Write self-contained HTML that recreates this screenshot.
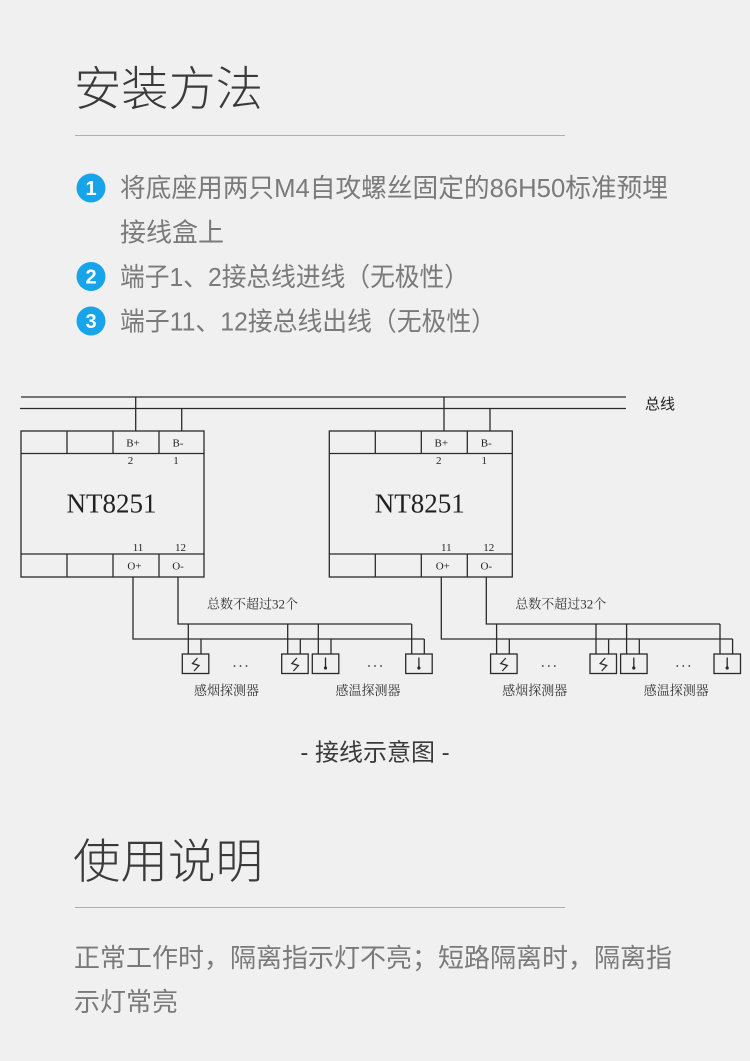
<!DOCTYPE html>
<html>
<head>
<meta charset="utf-8">
<style>
html,body{margin:0;padding:0;background:#f0f0f0;}
body{width:750px;height:1061px;overflow:hidden;}
svg{display:block;}
.ttl{font-family:"Liberation Sans","Noto Sans CJK SC",sans-serif;font-size:47px;fill:#3a3a3a;font-weight:300;}
.li{font-family:"Liberation Sans","Noto Sans CJK SC",sans-serif;font-size:26px;fill:#7a7a7a;}
.num{font-family:"Liberation Sans Narrow","Liberation Sans",sans-serif;font-size:20px;font-weight:bold;fill:#fff;}
.sr{font-family:"Liberation Serif","Noto Serif CJK SC",serif;fill:#222;}
.cj{font-family:"Liberation Serif","Noto Serif CJK SC",serif;font-size:13px;fill:#333;}
.w{stroke:#2a2a2a;stroke-width:1.3;fill:none;}
</style>
</head>
<body>
<svg width="750" height="1061" viewBox="0 0 750 1061" xmlns="http://www.w3.org/2000/svg">
  <rect x="0" y="0" width="750" height="1061" fill="#f0f0f0"/>

  <!-- Title 1 -->
  <text class="ttl" x="74" y="105.5" textLength="189" lengthAdjust="spacingAndGlyphs">安装方法</text>
  <line x1="75" y1="135.5" x2="565" y2="135.5" stroke="#b0b0b0" stroke-width="1"/>

  <!-- List -->
  <circle cx="91" cy="188" r="14.5" fill="#18a4ea"/>
  <text class="num" x="91" y="195" text-anchor="middle">1</text>
  <text class="li" x="120" y="197" textLength="548" lengthAdjust="spacingAndGlyphs">将底座用两只M4自攻螺丝固定的86H50标准预埋</text>
  <text class="li" x="120" y="241.5">接线盒上</text>
  <circle cx="91" cy="276.5" r="14.5" fill="#18a4ea"/>
  <text class="num" x="91" y="283.5" text-anchor="middle">2</text>
  <text class="li" x="120" y="286" textLength="349" lengthAdjust="spacingAndGlyphs">端子1、2接总线进线（无极性）</text>
  <circle cx="91" cy="321" r="14.5" fill="#18a4ea"/>
  <text class="num" x="91" y="328" text-anchor="middle">3</text>
  <text class="li" x="120" y="330.5" textLength="376" lengthAdjust="spacingAndGlyphs">端子11、12接总线出线（无极性）</text>

  <!-- Bus -->
  <line class="w" x1="21" y1="397" x2="626" y2="397"/>
  <line class="w" x1="20" y1="408.5" x2="626" y2="408.5"/>
  <text x="645" y="409" style="font-family:'Liberation Sans','Noto Sans CJK SC',sans-serif;font-size:15px;fill:#222;">总线</text>

  <!-- Module 1 -->
  <g id="m1">
    <line class="w" x1="135.7" y1="397" x2="135.7" y2="431"/>
    <line class="w" x1="181.7" y1="408.5" x2="181.7" y2="431"/>
    <rect class="w" x="21" y="431" width="183" height="146"/>
    <line class="w" x1="21" y1="453.5" x2="204" y2="453.5"/>
    <line class="w" x1="21" y1="554" x2="204" y2="554"/>
    <line class="w" x1="67" y1="431" x2="67" y2="453.5"/>
    <line class="w" x1="113" y1="431" x2="113" y2="453.5"/>
    <line class="w" x1="159" y1="431" x2="159" y2="453.5"/>
    <line class="w" x1="67" y1="554" x2="67" y2="577"/>
    <line class="w" x1="113" y1="554" x2="113" y2="577"/>
    <line class="w" x1="159" y1="554" x2="159" y2="577"/>
    <text class="sr" x="133" y="446.5" font-size="11" text-anchor="middle">B+</text>
    <text class="sr" x="178" y="446.5" font-size="11" text-anchor="middle">B-</text>
    <text class="sr" x="130.5" y="464" font-size="11" text-anchor="middle">2</text>
    <text class="sr" x="176" y="464" font-size="11" text-anchor="middle">1</text>
    <text class="sr" x="111.5" y="512.5" font-size="27" text-anchor="middle">NT8251</text>
    <text class="sr" x="138" y="551" font-size="11" text-anchor="middle">11</text>
    <text class="sr" x="180.5" y="551" font-size="11" text-anchor="middle">12</text>
    <text class="sr" x="134.5" y="569.5" font-size="11" text-anchor="middle">O+</text>
    <text class="sr" x="178" y="569.5" font-size="11" text-anchor="middle">O-</text>

    <!-- output wiring -->
    <polyline class="w" points="133,577 133,639 424.3,639"/>
    <polyline class="w" points="178,577 178,624 411.7,624"/>
    <line class="w" x1="188.3" y1="624" x2="188.3" y2="654"/>
    <line class="w" x1="201" y1="639" x2="201" y2="654"/>
    <line class="w" x1="287.7" y1="624" x2="287.7" y2="654"/>
    <line class="w" x1="300.3" y1="639" x2="300.3" y2="654"/>
    <line class="w" x1="318.3" y1="624" x2="318.3" y2="654"/>
    <line class="w" x1="331" y1="639" x2="331" y2="654"/>
    <line class="w" x1="411.7" y1="624" x2="411.7" y2="654"/>
    <line class="w" x1="424.3" y1="639" x2="424.3" y2="654"/>

    <text class="cj" x="207" y="608.5">总数不超过32个</text>

    <!-- detectors -->
    <rect class="w" x="182.3" y="654" width="26.5" height="19.5"/>
    <path class="w" d="M197.5 658 L192.5 663.5 L199 665.5 L194 671"/>
    <rect class="w" x="281.7" y="654" width="26.5" height="19.5"/>
    <path class="w" d="M296.9 658 L291.9 663.5 L298.4 665.5 L293.4 671"/>
    <rect class="w" x="312.3" y="654" width="26.5" height="19.5"/>
    <line class="w" x1="325.5" y1="657.5" x2="325.5" y2="667"/>
    <circle cx="325.5" cy="668" r="1.6" fill="#2a2a2a"/>
    <rect class="w" x="405.7" y="654" width="26.5" height="19.5"/>
    <line class="w" x1="418.9" y1="657.5" x2="418.9" y2="667"/>
    <circle cx="418.9" cy="668" r="1.6" fill="#2a2a2a"/>

    <circle cx="234.5" cy="666" r="0.9" fill="#333"/>
    <circle cx="240.5" cy="666" r="0.9" fill="#333"/>
    <circle cx="246.5" cy="666" r="0.9" fill="#333"/>
    <circle cx="369" cy="666" r="0.9" fill="#333"/>
    <circle cx="375" cy="666" r="0.9" fill="#333"/>
    <circle cx="381" cy="666" r="0.9" fill="#333"/>

    <text class="cj" x="226.5" y="695" text-anchor="middle">感烟探测器</text>
    <text class="cj" x="368" y="695" text-anchor="middle">感温探测器</text>
  </g>

  <!-- Module 2 -->
  <use href="#m1" transform="translate(308.3,0)"/>

  <!-- caption -->
  <text x="375" y="760.5" text-anchor="middle" style="font-family:'Liberation Sans','Noto Sans CJK SC',sans-serif;font-size:24px;fill:#3a3a3a;">- 接线示意图 -</text>

  <!-- Title 2 -->
  <text class="ttl" x="73" y="878" textLength="190" lengthAdjust="spacingAndGlyphs">使用说明</text>
  <line x1="75" y1="907.5" x2="565" y2="907.5" stroke="#b0b0b0" stroke-width="1"/>

  <text class="li" x="74" y="967">正常工作时，隔离指示灯不亮；短路隔离时，隔离指</text>
  <text class="li" x="74" y="1011">示灯常亮</text>
</svg>
</body>
</html>
